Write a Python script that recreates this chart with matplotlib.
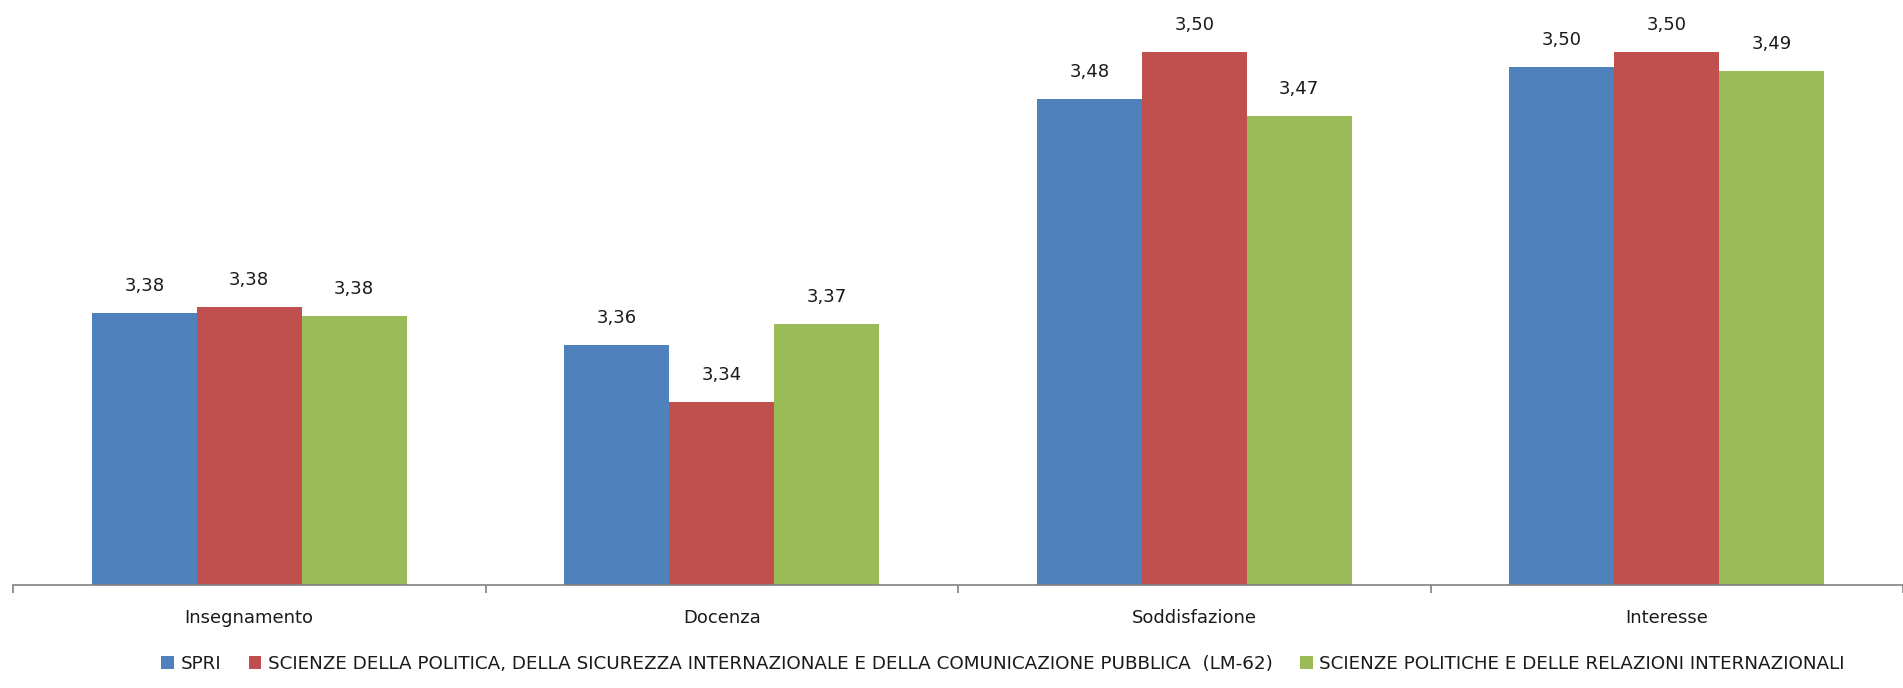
import numpy as np
import matplotlib.pyplot as plt

# values (axis starts at 3.25)
categories = ["Insegnamento", "Docenza", "Soddisfazione", "Interesse"]
series_names = [
    "SPRI",
    "SCIENZE DELLA POLITICA, DELLA SICUREZZA INTERNAZIONALE E DELLA COMUNICAZIONE PUBBLICA  (LM-62)",
    "SCIENZE POLITICHE E DELLE RELAZIONI INTERNAZIONALI",
]
spri = [3.379, 3.364, 3.481, 3.496]
lm62 = [3.382, 3.337, 3.503, 3.503]
spri_tri = [3.378, 3.374, 3.473, 3.494]
labels_spri = ["3,38", "3,36", "3,48", "3,50"]
labels_lm62 = ["3,38", "3,34", "3,50", "3,50"]
labels_tri = ["3,38", "3,37", "3,47", "3,49"]

colours = ["#4F81BD", "#C0504D", "#9BBB59"]

plt.rcParams["font.family"] = ["DejaVu Sans"]

W, H = 1903, 688
fig = plt.figure(figsize=(W / 100, H / 100), dpi=100)
ax = fig.add_axes([13 / W, (H - 585) / H, (W - 13) / W, 585 / H])

x = np.arange(len(categories))
bw = 0.222
all_series = [spri, lm62, spri_tri]
all_labels = [labels_spri, labels_lm62, labels_tri]
for i, (vals, labs) in enumerate(zip(all_series, all_labels)):
    bars = ax.bar(x + (i - 1) * bw, vals, width=bw, color=colours[i],
                  label=series_names[i])
    for b, lab in zip(bars, labs):
        ax.annotate(lab, (b.get_x() + b.get_width() / 2, b.get_height()),
                    xytext=(0, 13), textcoords="offset points",
                    ha="center", va="bottom", fontsize=13, color="#1a1a1a")

ax.set_ylim(3.25, 3.25 + 585 / 2105)
ax.set_xlim(-0.5, -0.5 + (W - 13) / 476)

for s in ["top", "right", "left"]:
    ax.spines[s].set_visible(False)
ax.spines["bottom"].set_color("#808080")
ax.spines["bottom"].set_linewidth(1.2)
ax.set_yticks([])

# ticks between the categories, names in the middle
ax.set_xticks(np.arange(-0.5, 3.6, 1.0))
ax.set_xticklabels([])
ax.set_xticks(x, minor=True)
ax.set_xticklabels(categories, minor=True, fontsize=13, color="#1a1a1a")
ax.tick_params(axis="x", which="major", length=6, color="#808080", width=1.2)
ax.tick_params(axis="x", which="minor", length=0, pad=17)

leg = fig.legend(loc="center", bbox_to_anchor=(1003 / W, (H - 664) / H), ncol=3,
                 frameon=False, fontsize=13.2, handlelength=0.7, handleheight=0.7,
                 handletextpad=0.35, columnspacing=1.5)
for t in leg.get_texts():
    t.set_color("#1a1a1a")

fig.savefig("out.png", dpi=100)
